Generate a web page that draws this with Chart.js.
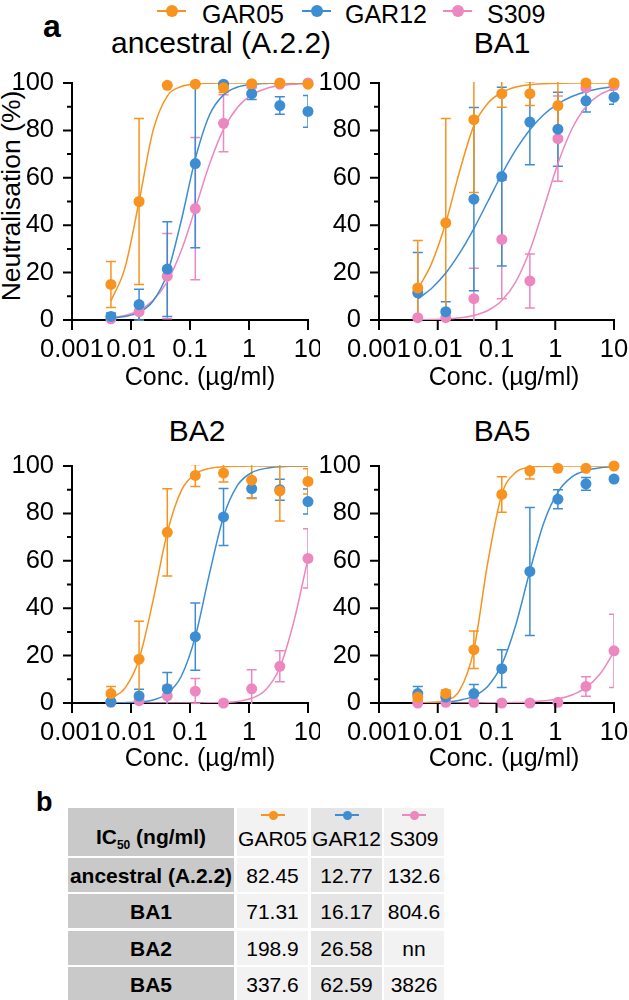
<!DOCTYPE html>
<html>
<head>
<meta charset="utf-8">
<script src="https://cdn.jsdelivr.net/npm/chart.js@4.4.1/dist/chart.umd.min.js"></script>
<style>
  body { margin: 0; background: #fff; font-family: "Liberation Sans", Arial, sans-serif; color: #000; }
  #page { position: relative; width: 629px; height: 1000px; overflow: hidden; background: #fff; }
  .t { position: absolute; white-space: nowrap; }
  canvas { position: absolute; }
  .cell { position: absolute; display: flex; align-items: center; justify-content: center; font-size: 21px; line-height: 21px; white-space: nowrap; }
  .mk { position: absolute; height: 2px; }
  .mk i { position: absolute; border-radius: 50%; }
</style>
</head>
<body>
<div id="page">
  <div class="t" style="left:43px;top:10px;font-size:32px;line-height:32px;font-weight:bold;">a</div>
  <div id="legend"></div>

  <div class="t" style="left:111px;width:200px;text-align:center;top:28px;font-size:30px;line-height:30px;">ancestral (A.2.2)</div>
  <div class="t" style="left:402px;width:200px;text-align:center;top:28px;font-size:30px;line-height:30px;">BA1</div>
  <div class="t" style="left:97px;width:200px;text-align:center;top:416px;font-size:30px;line-height:30px;">BA2</div>
  <div class="t" style="left:402px;width:200px;text-align:center;top:416px;font-size:30px;line-height:30px;">BA5</div>

  <div class="t" style="left:-119px;top:183px;width:260px;height:26px;text-align:center;font-size:26.5px;line-height:26px;transform:rotate(-90deg);">Neutralisation (%)</div>

  <canvas id="cTL" width="320" height="320" style="left:0;top:60px;"></canvas>
  <canvas id="cTR" width="309" height="320" style="left:320px;top:60px;"></canvas>
  <canvas id="cBL" width="320" height="320" style="left:0;top:443px;"></canvas>
  <canvas id="cBR" width="309" height="320" style="left:320px;top:443px;"></canvas>

  <div class="t" style="left:100px;width:200px;text-align:center;top:364px;font-size:25px;line-height:25px;">Conc. (µg/ml)</div>
  <div class="t" style="left:404px;width:200px;text-align:center;top:364px;font-size:25px;line-height:25px;">Conc. (µg/ml)</div>
  <div class="t" style="left:100px;width:200px;text-align:center;top:745px;font-size:25px;line-height:25px;">Conc. (µg/ml)</div>
  <div class="t" style="left:404px;width:200px;text-align:center;top:745px;font-size:25px;line-height:25px;">Conc. (µg/ml)</div>

  <div class="t" style="left:36px;top:789px;font-size:27px;line-height:27px;font-weight:bold;">b</div>
  <div id="table"></div>
</div>

<script>
// x positions of the measured points (3-fold dilutions) and of the sampled fit curves
const conc = [0.00457, 0.0137, 0.0412, 0.123, 0.370, 1.11, 3.33, 10];
const fitConc = [0.00457, 0.0079, 0.0137, 0.0237, 0.0412, 0.0712, 0.123, 0.214, 0.370, 0.641, 1.11, 1.92, 3.33, 5.77, 10];
const xTicks = [0.001, 0.01, 0.1, 1, 10];
const yTicks = [0, 20, 40, 60, 80, 100];
const yMinorTicks = [10, 30, 50, 70, 90];

const antibodies = ['GAR05', 'GAR12', 'S309'];
const colours = ['#f7931e', '#3c8dd2', '#ec87c0'];

// ancestral (A.2.2)
const ancGAR05 = [15, 50, 99, 99.5, 98, 99.7, 100, 99.5];
const ancGAR05Sd = [9.7, 35, 0, 0, 2, 0, 0, 0];
const ancGAR05Fit = [8, 22, 50, 80, 94.5, 98.5, 99.6, 99.9, 100, 100, 100, 100, 100, 100, 100];
const ancGAR12 = [1.5, 6.5, 21.5, 66, 99.5, 95.5, 90.5, 88];
const ancGAR12Sd = [1.5, 6.5, 20, 35.5, 0.5, 2.5, 3.7, 6.7];
const ancGAR12Fit = [0.8, 1.5, 3.2, 8, 19.6, 42, 68, 86.5, 95, 98.3, 99.4, 99.8, 100, 100, 100];
const ancS309 = [0.5, 3.5, 18.5, 47, 83, 99, 99.5, 100];
const ancS309Sd = [0.5, 4, 18, 30, 12, 0, 0, 0];
const ancS309Fit = [0.9, 1.9, 4.0, 8.3, 16.2, 29.3, 47.1, 65.7, 80.4, 89.8, 95.0, 97.6, 98.9, 99.5, 99.7];

// BA1
const ba1GAR05 = [13.5, 41, 84.5, 95.5, 95.5, 90.5, 100, 100];
const ba1GAR05Sd = [20, 44, 30.7, 5.7, 5, 11, 0, 0];
const ba1GAR05Fit = [13, 24, 41, 63, 82, 91.5, 96, 98.3, 99.3, 99.7, 99.9, 100, 100, 100, 100];
const ba1GAR12 = [11.5, 3.5, 51, 60.5, 83.5, 80.5, 92.5, 94];
const ba1GAR12Sd = [17, 4.2, 38.7, 37.7, 18, 15.6, 4.7, 3];
const ba1GAR12Fit = [8.9, 13.4, 19.8, 28.3, 38.6, 50, 61.5, 71.9, 80.3, 86.7, 91.2, 94.3, 96.3, 97.7, 98.5];
const ba1S309 = [1, 1, 9, 34, 16.5, 76.5, 98, 99];
const ba1S309Sd = [0, 0, 12.8, 25, 11.4, 18, 0, 0];
const ba1S309Fit = [0.1, 0.2, 0.4, 0.9, 1.9, 4.0, 8.2, 16.2, 29.4, 47.4, 66, 80.6, 90, 95.1, 97.7];

// BA2
const ba2GAR05 = [4, 18.5, 72, 96, 97, 94, 89.5, 93.5];
const ba2GAR05Sd = [3, 16, 18.4, 4.6, 3.8, 7.7, 12.7, 5.3];
const ba2GAR05Fit = [2.0, 6.3, 18.5, 43.3, 71.9, 89.6, 96.7, 99.0, 99.7, 99.9, 100, 100, 100, 100, 100];
const ba2GAR12 = [0.5, 3, 6, 28, 78.5, 90.5, 90, 85];
const ba2GAR12Sd = [0, 2.8, 6.9, 14.2, 12, 4, 4.4, 5.3];
const ba2GAR12Fit = [0.05, 0.14, 0.44, 1.3, 4.0, 11.3, 28, 54.6, 78.6, 91.9, 97.2, 99.0, 99.7, 99.9, 100];
const ba2S309 = [0.3, 1, 3, 5, 0, 6, 15.5, 61];
const ba2S309Sd = [0, 0, 4.5, 5.3, 0, 8, 6.5, 12.5];
const ba2S309Fit = [0, 0, 0, 0, 0, 0, 0.03, 0.08, 0.23, 0.68, 2.0, 5.6, 15.0, 34.5, 61.0];

// BA5
const ba5GAR05 = [2.5, 4, 22.5, 88, 98, 99, 99, 100];
const ba5GAR05Sd = [1, 1.5, 7.9, 7.5, 3.5, 0, 0, 0];
const ba5GAR05Fit = [0.04, 0.22, 1.1, 5.4, 22.4, 59.4, 88, 97.4, 99.5, 99.9, 100, 100, 100, 100, 100];
const ba5GAR12 = [4, 2.5, 4, 14.5, 55.5, 86, 92.5, 94.5];
const ba5GAR12Sd = [3, 2, 3.8, 8, 27, 4, 2.7, 0];
const ba5GAR12Fit = [0.07, 0.18, 0.46, 1.2, 2.9, 7.1, 16.2, 33.1, 55.7, 76.2, 89.0, 95.4, 98.1, 99.3, 99.7];
const ba5S309 = [0, 0.3, 0.3, 0, 0, 0.3, 7, 22];
const ba5S309Sd = [0, 0, 0, 0, 0, 0, 4.1, 15.5];
const ba5S309Fit = [0, 0, 0, 0, 0.03, 0.06, 0.12, 0.23, 0.45, 0.9, 1.7, 3.4, 6.5, 12.2, 21.6];

// table b
const tableVariants = ['ancestral (A.2.2)', 'BA1', 'BA2', 'BA5'];
const ic50GAR05 = ['82.45', '71.31', '198.9', '337.6'];
const ic50GAR12 = ['12.77', '16.17', '26.58', '62.59'];
const ic50S309 = ['132.6', '804.6', 'nn', '3826'];

const FONT = 'Liberation Sans, Arial, sans-serif';

// error bars (mean ± SD), clipped to the plot area like the original
const errorBars = {
  id: 'errorBars',
  beforeDatasetsDraw(chart) {
    const { ctx, chartArea: a, scales: { x, y } } = chart;
    ctx.save();
    ctx.beginPath();
    ctx.rect(a.left, a.top - 1, a.right - a.left, a.bottom - a.top + 2);
    ctx.clip();
    ctx.lineWidth = 1.5;
    const ds = chart.data.datasets;
    for (let k = ds.length - 1; k >= 0; k--) {
      if (!ds[k].errors) continue;
      ctx.strokeStyle = ds[k].borderColor;
      ds[k].data.forEach((p, i) => {
        const e = ds[k].errors[i];
        if (!e) return;
        const px = x.getPixelForValue(p.x);
        const top = y.getPixelForValue(p.y + e);
        const bot = y.getPixelForValue(p.y - e);
        ctx.beginPath();
        ctx.moveTo(px, top); ctx.lineTo(px, bot);
        ctx.moveTo(px - 5, top); ctx.lineTo(px + 5, top);
        ctx.moveTo(px - 5, bot); ctx.lineTo(px + 5, bot);
        ctx.stroke();
      });
    }
    ctx.restore();
  }
};

// outside tick marks: long for labelled values, short minor ones on y
const tickMarks = {
  id: 'tickMarks',
  afterDraw(chart) {
    const { ctx, chartArea: a, scales: { x, y } } = chart;
    ctx.save();
    ctx.strokeStyle = '#000';
    ctx.lineWidth = 2;
    ctx.beginPath();
    yTicks.forEach(v => { const py = y.getPixelForValue(v); ctx.moveTo(a.left - 9, py); ctx.lineTo(a.left, py); });
    yMinorTicks.forEach(v => { const py = y.getPixelForValue(v); ctx.moveTo(a.left - 5, py); ctx.lineTo(a.left, py); });
    xTicks.forEach(v => { const px = x.getPixelForValue(v); ctx.moveTo(px, a.bottom); ctx.lineTo(px, a.bottom + 10); });
    ctx.stroke();
    ctx.restore();
  }
};

function makePanel(id, yWidth, padRight, points, sds, fits) {
  const datasets = [];
  points.forEach((vals, k) => datasets.push({
    label: antibodies[k],
    data: vals.map((v, i) => ({ x: conc[i], y: v })),
    errors: sds[k],
    backgroundColor: colours[k],
    borderColor: colours[k],
    pointRadius: 5.5,
    pointHoverRadius: 5.5,
    pointBorderWidth: 0,
    showLine: false,
    clip: false,
    order: k
  }));
  fits.forEach((vals, k) => datasets.push({
    label: antibodies[k] + ' fit',
    data: vals.map((v, i) => ({ x: fitConc[i], y: v })),
    borderColor: colours[k],
    borderWidth: 1.5,
    pointRadius: 0,
    showLine: true,
    fill: false,
    cubicInterpolationMode: 'monotone',
    order: 3 + k
  }));

  return new Chart(document.getElementById(id), {
    type: 'scatter',
    data: { datasets: datasets },
    options: {
      responsive: false,
      animation: false,
      events: [],
      layout: { padding: { top: 23, right: padRight, bottom: 0, left: 0 } },
      plugins: { legend: { display: false }, tooltip: { enabled: false } },
      scales: {
        x: {
          type: 'logarithmic',
          min: 0.001,
          max: 10,
          afterBuildTicks: s => { s.ticks = xTicks.map(v => ({ value: v })); },
          afterFit: s => { s.height = 60; s.paddingLeft = 0; s.paddingRight = 0; },
          ticks: {
            callback: v => String(v),
            autoSkip: false, maxRotation: 0, minRotation: 0,
            color: '#000', padding: 7,
            font: { family: FONT, size: 25.5 }
          },
          grid: { display: false },
          border: { display: true, width: 2, color: '#000' }
        },
        y: {
          min: 0,
          max: 100,
          afterBuildTicks: s => { s.ticks = yTicks.map(v => ({ value: v })); },
          afterFit: s => { s.width = yWidth; s.paddingTop = 0; s.paddingBottom = 0; },
          ticks: { color: '#000', padding: 10, font: { family: FONT, size: 25.5 } },
          grid: { display: false },
          border: { display: true, width: 2, color: '#000' }
        }
      }
    },
    plugins: [errorBars, tickMarks]
  });
}

makePanel('cTL', 72, 12, [ancGAR05, ancGAR12, ancS309], [ancGAR05Sd, ancGAR12Sd, ancS309Sd], [ancGAR05Fit, ancGAR12Fit, ancS309Fit]);
makePanel('cTR', 59, 15, [ba1GAR05, ba1GAR12, ba1S309], [ba1GAR05Sd, ba1GAR12Sd, ba1S309Sd], [ba1GAR05Fit, ba1GAR12Fit, ba1S309Fit]);
makePanel('cBL', 72, 12, [ba2GAR05, ba2GAR12, ba2S309], [ba2GAR05Sd, ba2GAR12Sd, ba2S309Sd], [ba2GAR05Fit, ba2GAR12Fit, ba2S309Fit]);
makePanel('cBR', 59, 15, [ba5GAR05, ba5GAR12, ba5S309], [ba5GAR05Sd, ba5GAR12Sd, ba5S309Sd], [ba5GAR05Fit, ba5GAR12Fit, ba5S309Fit]);

// shared legend at the top
const legendItems = [
  { line: 157, text: 202 },
  { line: 302, text: 345 },
  { line: 443, text: 487 }
];
const legend = document.getElementById('legend');
legendItems.forEach((it, k) => {
  legend.insertAdjacentHTML('beforeend',
    `<div class="mk" style="left:${it.line}px;top:10px;width:29px;background:${colours[k]}"><i style="left:9px;top:-5px;width:12px;height:12px;background:${colours[k]}"></i></div>` +
    `<div class="t" style="left:${it.text}px;top:2px;font-size:25px;line-height:25px;">${antibodies[k]}</div>`);
});

// table b
const cols = [[68, 166], [237, 71], [311, 71], [384, 60]];
const colBg = ['#c9c9c9', '#f2f2f2', '#e5e5e5', '#f2f2f2'];
const rowsY = [[858, 34], [894, 34], [931, 34], [967, 34]];
const table = document.getElementById('table');
let html = '';
html += `<div class="cell" style="left:68px;top:808px;width:166px;height:48px;background:${colBg[0]};font-weight:bold;padding-top:12px;box-sizing:border-box;"><span>IC<span style="font-size:12px;position:relative;top:5px;">50</span> (ng/ml)</span></div>`;
antibodies.forEach((name, k) => {
  const [cx, cw] = cols[k + 1];
  html += `<div class="cell" style="left:${cx}px;top:808px;width:${cw}px;height:48px;background:${colBg[k + 1]};padding-top:12px;box-sizing:border-box;">${name}</div>`;
  html += `<div class="mk" style="left:${cx + cw / 2 - 12}px;top:814px;width:24px;background:${colours[k]}"><i style="left:8px;top:-3.5px;width:9px;height:9px;background:${colours[k]}"></i></div>`;
});
const ic50Cols = [ic50GAR05, ic50GAR12, ic50S309];
tableVariants.forEach((v, r) => {
  const [ry, rh] = rowsY[r];
  html += `<div class="cell" style="left:68px;top:${ry}px;width:166px;height:${rh}px;background:${colBg[0]};font-weight:bold;">${v}</div>`;
  ic50Cols.forEach((col, k) => {
    const [cx, cw] = cols[k + 1];
    html += `<div class="cell" style="left:${cx}px;top:${ry}px;width:${cw}px;height:${rh}px;background:${colBg[k + 1]};">${col[r]}</div>`;
  });
});
table.innerHTML = html;
</script>
</body>
</html>
